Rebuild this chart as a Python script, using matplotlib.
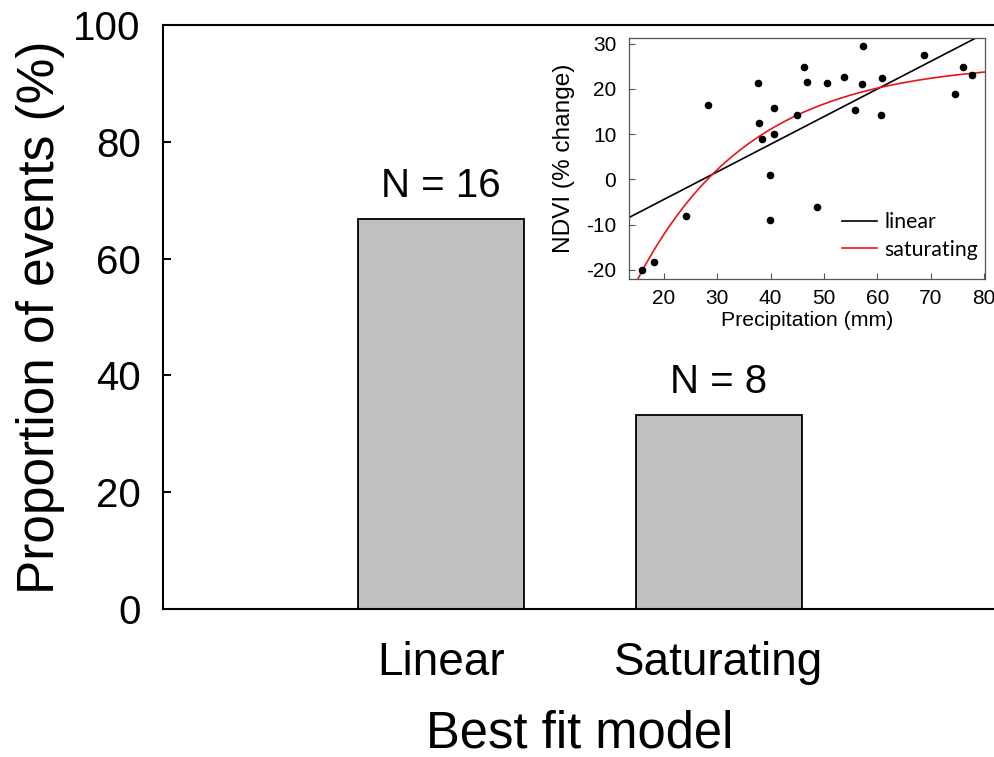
import numpy as np
import matplotlib
matplotlib.use("Agg")
import matplotlib.pyplot as plt

plt.rcParams['font.family'] = ['Liberation Sans', 'DejaVu Sans']
plt.rcParams['axes.unicode_minus'] = False

# Main panel: share of events best described by each model
models = ["Linear", "Saturating"]
proportions = [66.7, 33.3]
counts = [16, 8]
yticks_main = [0, 20, 40, 60, 80, 100]

# Inset: NDVI response versus precipitation
precip = [15.9, 18.2, 24.2, 28.3, 37.7, 37.9, 38.4, 39.9, 39.9, 40.7, 40.7,
          45.0, 46.3, 46.8, 48.7, 50.5, 53.8, 55.8, 57.1, 57.3, 60.6, 60.8,
          68.7, 74.5, 76.1, 77.8]
ndvi = [-20.0, -18.2, -8.1, 16.4, 21.3, 12.4, 8.9, 0.9, -9.0, 15.8, 10.0,
        14.3, 24.9, 21.6, -6.1, 21.3, 22.6, 15.4, 21.1, 29.4, 14.3, 22.4,
        27.6, 18.8, 24.8, 23.2]

# Fitted model parameters
lin_slope, lin_intercept = 0.61, -16.6
sat_asym, sat_scale, sat_rate = 26.0, 97.5, 0.047

fig = plt.figure(figsize=(9.95, 7.57), dpi=100)
ax = fig.add_axes([0.1638, 0.1955, 0.8382, 0.7715])

x = np.arange(len(models))
ax.bar(x, proportions, width=0.6, color="#c0c0c0", edgecolor="black",
       linewidth=1.3, zorder=2)
for xi, p, n in zip(x, proportions, counts):
    ax.text(xi, p + 2.4, f"N = {n}", ha="center", va="bottom", fontsize=29)

ax.set_xlim(-1, 2.0)
ax.set_ylim(0, 100)
ax.set_xticks(x)
ax.set_xticklabels(models, fontsize=33)
ax.set_yticks(yticks_main)
ax.tick_params(axis="y", direction="in", length=6, width=1.4, labelsize=29, pad=16)
ax.tick_params(axis="x", length=0, pad=23)
ax.set_xlabel("Best fit model", fontsize=36.5, labelpad=18)
ax.set_ylabel("Proportion of events (%)", fontsize=37, labelpad=6)
for s in ax.spines.values():
    s.set_linewidth(1.5)

# Inset scatter with the two fitted curves
ins = fig.add_axes([0.632, 0.6314, 0.358, 0.318])
ins.scatter(precip, ndvi, s=20, color="black", zorder=3)
xl = np.linspace(13.4, 80.2, 200)
ins.plot(xl, lin_slope * xl + lin_intercept, color="black", lw=1.2, label="linear")
ins.plot(xl, sat_asym - sat_scale * np.exp(-sat_rate * xl), color="#e8141c",
         lw=1.2, label="saturating")
ins.set_xlim(13.4, 80.2)
ins.set_ylim(-22, 31.2)
ins.set_xticks([20, 30, 40, 50, 60, 70, 80])
ins.set_yticks([-20, -10, 0, 10, 20, 30])
ins.tick_params(direction="in", length=4, width=0.8, labelsize=15,
                color="#555555")
ins.tick_params(axis="x", pad=7.5)
ins.tick_params(axis="y", pad=9)
ins.set_xlabel("Precipitation (mm)", fontsize=15.3, labelpad=2)
ins.set_ylabel("NDVI (% change)", fontsize=17.6, labelpad=8)
for s in ins.spines.values():
    s.set_linewidth(0.9)
    s.set_color("#555555")
ins.legend(loc="lower right", frameon=False, handlelength=1.65, handletextpad=0.35,
           labelspacing=0.35, prop={"family": "Lato", "size": 15.3},
           bbox_to_anchor=(1.035, 0.0))

fig.savefig("out.png", dpi=100)
